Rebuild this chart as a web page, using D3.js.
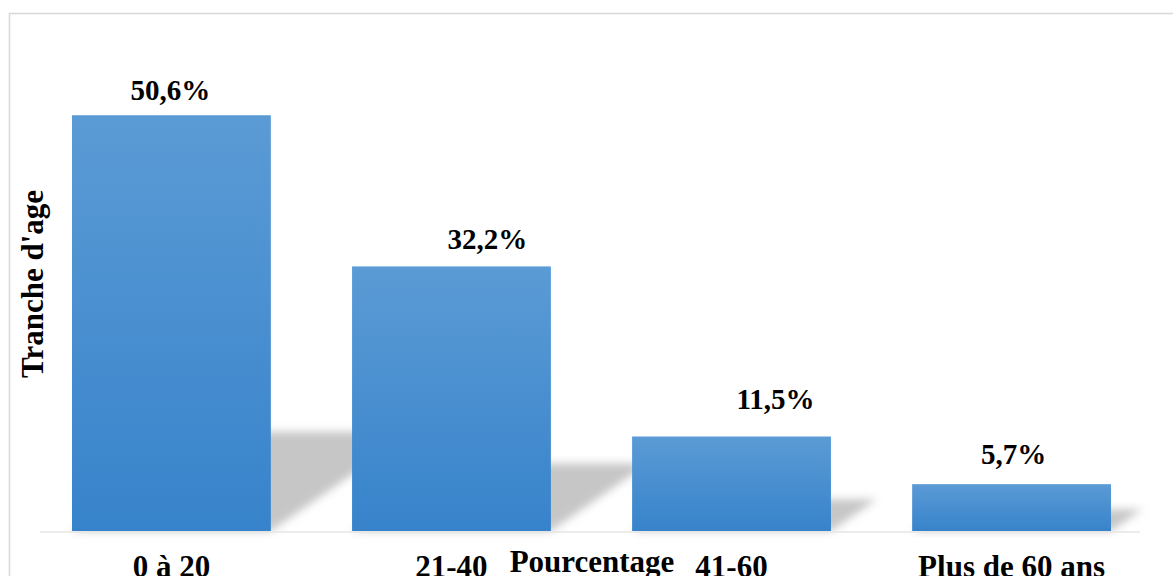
<!DOCTYPE html>
<html>
<head>
<meta charset="utf-8">
<script src="https://cdn.jsdelivr.net/npm/d3@7"></script>
<style>
  body { margin: 0; background: #fff; }
  svg text { font-family: "Liberation Serif", "Times New Roman", serif; font-weight: bold; fill: #000; }
</style>
</head>
<body>
<div id="chart"></div>
<script>
// Chart data
const categories = ['0 à 20', '21-40', '41-60', 'Plus de 60 ans'];
const values = [50.6, 32.2, 11.5, 5.7];
const valueLabels = ['50,6%', '32,2%', '11,5%', '5,7%'];

const width = 1173;
const height = 576;

// Value labels were nudged by hand in the original chart
const labelDx = [-1, 36, 44, 2];
const labelDy = [15, 17, 28, 20];

const svg = d3.select('#chart')
  .append('svg')
  .attr('width', width)
  .attr('height', height);

// Gradient and blur definitions
const defs = svg.append('defs');
const grad = defs.append('linearGradient')
  .attr('id', 'barGrad')
  .attr('x1', 0).attr('y1', 0).attr('x2', 0).attr('y2', 1);
grad.append('stop').attr('offset', '0%').attr('stop-color', '#5b9bd5');
grad.append('stop').attr('offset', '100%').attr('stop-color', '#3783cb');

defs.append('filter')
  .attr('id', 'blur')
  .attr('x', '-20%').attr('y', '-30%').attr('width', '140%').attr('height', '160%')
  .append('feGaussianBlur')
  .attr('stdDeviation', 4);

// Chart border (extends past the window on right and bottom)
svg.append('rect')
  .attr('x', 9.5)
  .attr('y', 13.5)
  .attr('width', 1200)
  .attr('height', 600)
  .attr('fill', 'none')
  .attr('stroke', '#d9d9d9')
  .attr('stroke-width', 1.6);

// Scales
const xScale = d3.scaleBand()
  .domain(categories)
  .range([-8, 1191])
  .paddingInner(0.29)
  .paddingOuter(0.2857);

const yScale = d3.scaleLinear()
  .domain([0, 60])
  .range([531, 38]);

const base = yScale(0);

// Perspective shadows behind the bars
svg.selectAll('.shadow')
  .data(categories)
  .enter()
  .append('path')
  .attr('class', 'shadow')
  .attr('fill', '#c6c6c6')
  .attr('filter', 'url(#blur)')
  .attr('d', (d, i) => {
    const h = base - yScale(values[i]);
    const sh = h * 0.21 + 12;
    const shift = sh * 1.44;
    const x0 = xScale(d);
    const x1 = x0 + xScale.bandwidth();
    return `M${x0},${base} L${x1},${base} L${x1 + shift},${base - sh} L${x0 + shift},${base - sh} Z`;
  });

// Axis baseline
svg.append('line')
  .attr('x1', 40)
  .attr('x2', 1140)
  .attr('y1', base + 1)
  .attr('y2', base + 1)
  .attr('stroke', '#e6e6e6')
  .attr('stroke-width', 1.5);

// Bars
svg.selectAll('.bar')
  .data(categories)
  .enter()
  .append('rect')
  .attr('class', 'bar')
  .attr('x', d => xScale(d))
  .attr('y', (d, i) => yScale(values[i]))
  .attr('width', xScale.bandwidth())
  .attr('height', (d, i) => base - yScale(values[i]))
  .attr('fill', 'url(#barGrad)');

// Value labels
svg.selectAll('.value-label')
  .data(categories)
  .enter()
  .append('text')
  .attr('class', 'value-label')
  .attr('x', (d, i) => xScale(d) + xScale.bandwidth() / 2 + labelDx[i])
  .attr('y', (d, i) => yScale(values[i]) - labelDy[i])
  .attr('text-anchor', 'middle')
  .style('font-size', '29px')
  .text((d, i) => valueLabels[i]);

// Category labels
svg.selectAll('.cat-label')
  .data(categories)
  .enter()
  .append('text')
  .attr('class', 'cat-label')
  .attr('x', d => xScale(d) + xScale.bandwidth() / 2)
  .attr('y', 577)
  .attr('text-anchor', 'middle')
  .style('font-size', '31px')
  .text(d => d);

// X-axis title
svg.append('text')
  .attr('x', 592)
  .attr('y', 572)
  .attr('text-anchor', 'middle')
  .style('font-size', '31px')
  .text('Pourcentage');

// Y-axis title
svg.append('text')
  .attr('transform', 'translate(43,284) rotate(-90)')
  .attr('text-anchor', 'middle')
  .style('font-size', '31px')
  .text("Tranche d'age");
</script>
</body>
</html>
